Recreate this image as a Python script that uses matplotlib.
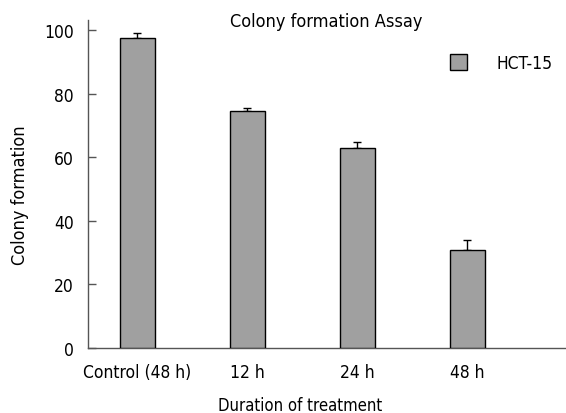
import numpy as np
import matplotlib
matplotlib.use("Agg")
import matplotlib.pyplot as plt

groups = ["Control (48 h)", "12 h", "24 h", "48 h"]
colony = [97.4, 74.5, 62.8, 30.7]
err = [1.5, 1.1, 2.1, 3.2]

plt.rcParams['font.family'] = 'DejaVu Sans'
plt.rcParams['font.stretch'] = 'condensed'
fig = plt.figure(figsize=(5.66, 4.14), dpi=100)
ax = fig.add_axes([88/566, 1 - 349/414, 1 - 88/566, (349 - 20.7)/414])

x = np.arange(len(groups))
ax.bar(x, colony, width=0.32, color='#a0a0a0', edgecolor='black', linewidth=1,
       label='HCT-15', zorder=3)
ax.errorbar(x, colony, yerr=[np.zeros(len(err)), err], fmt='none', ecolor='black',
            elinewidth=1, capsize=3, capthick=1, zorder=2)

ax.set_xlim(-0.45, 3.9)
ax.set_ylim(0, 103.2)
ax.set_yticks([0, 20, 40, 60, 80, 100])
ax.set_xticks(x)
ax.set_xticklabels(groups)
ax.tick_params(axis='y', direction='in', length=6, width=1, color='#555555',
               pad=10, labelsize=12.5)
ax.tick_params(axis='x', length=0, pad=11, labelsize=12.5)
for s in ['top', 'right']:
    ax.spines[s].set_visible(False)
for s in ['left', 'bottom']:
    ax.spines[s].set_color('#555555')
    ax.spines[s].set_linewidth(1)

fig.text(20/566, 1 - 195/414, 'Colony formation', rotation=90, ha='center',
         va='center', fontsize=13)
fig.text(300/566, 1 - 411/414, 'Duration of treatment', ha='center', va='baseline',
         fontsize=12)
fig.text(326/566, 1 - 22/414, 'Colony formation Assay', ha='center', va='center',
         fontsize=13)

ax.legend(loc='upper left', bbox_to_anchor=(450/566, 1 - 55/414),
          bbox_transform=fig.transFigure, frameon=False, fontsize=12.5,
          handlelength=1.0, handleheight=1.0, handletextpad=1.7,
          borderpad=0, borderaxespad=0)

fig.savefig('out.png', dpi=100)
